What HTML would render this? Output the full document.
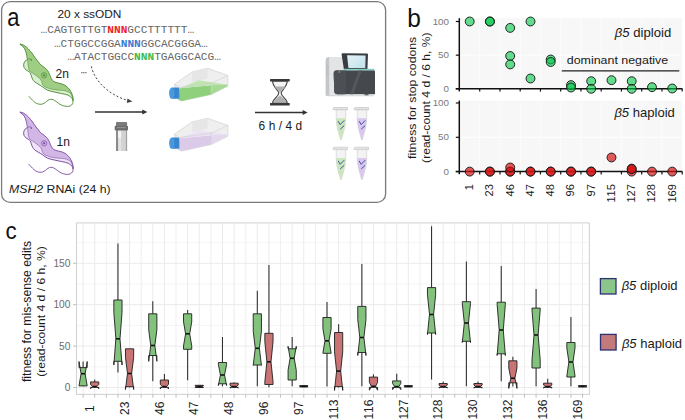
<!DOCTYPE html><html><head><meta charset="utf-8"><style>html,body{margin:0;padding:0;background:#fff;}svg{display:block;}text{font-family:"Liberation Sans", sans-serif;font-kerning:none;}</style></head><body>
<svg width="685" height="420" viewBox="0 0 685 420">
<rect width="685" height="420" fill="#fff"/>
<rect x="1.6" y="1.6" width="384" height="200.8" rx="8.5" ry="8.5" fill="none" stroke="#7a7a7a" stroke-width="1.3"/>
<text transform="translate(7.3,25.7) scale(0.86,1)" font-size="25.5" fill="#111">a</text>
<text x="57.4" y="18.2" font-size="11.6" fill="#1a1a1a" textLength="64" lengthAdjust="spacingAndGlyphs">20 x ssODN</text>
<text x="40.6" y="32.9" font-size="11.1" fill="#666" style="font-family:'Liberation Mono',monospace" textLength="153.5" lengthAdjust="spacingAndGlyphs">…CAGTGTTGT<tspan fill="#ee1c24" font-weight="bold">NNN</tspan>GCCTTTTTT…</text>
<text x="53.9" y="46.8" font-size="11.1" fill="#666" style="font-family:'Liberation Mono',monospace" textLength="153.8" lengthAdjust="spacingAndGlyphs">…CTGGCCGGA<tspan fill="#3a7cd0" font-weight="bold">NNN</tspan>GGCACGGGA…</text>
<text x="67.4" y="60.2" font-size="11.1" fill="#666" style="font-family:'Liberation Mono',monospace" textLength="153.5" lengthAdjust="spacingAndGlyphs">…ATACTGGCC<tspan fill="#3cbb4a" font-weight="bold">NNN</tspan>TGAGGCACG…</text>
<g transform="translate(0,0)"><path d="M19.90,44.10 C20.10,43.92 23.18,44.97 24.60,45.80 C26.02,46.63 27.20,47.90 28.40,49.10 C29.60,50.30 30.77,51.65 31.80,53.00 C32.83,54.35 33.65,55.87 34.60,57.20 C35.55,58.53 36.47,59.72 37.50,61.00 C38.53,62.28 39.62,63.78 40.80,64.90 C41.98,66.02 43.48,66.75 44.60,67.70 C45.72,68.65 46.68,69.47 47.50,70.60 C48.32,71.73 48.88,73.17 49.50,74.50 C50.12,75.83 50.45,77.38 51.20,78.60 C51.95,79.82 52.77,81.03 54.00,81.80 C55.23,82.57 56.95,82.70 58.60,83.20 C60.25,83.70 62.30,84.00 63.90,84.80 C65.50,85.60 66.95,86.65 68.20,88.00 C69.45,89.35 70.62,91.28 71.40,92.90 C72.18,94.52 72.63,96.38 72.90,97.70 C73.17,99.02 73.15,100.70 73.00,100.80 C72.85,100.90 72.80,99.23 72.00,98.30 C71.20,97.37 69.90,95.98 68.20,95.20 C66.50,94.42 64.12,94.13 61.80,93.60 C59.48,93.07 56.68,92.57 54.30,92.00 C51.92,91.43 49.47,91.07 47.50,90.20 C45.53,89.33 44.08,87.83 42.50,86.80 C40.92,85.77 39.30,84.82 38.00,84.00 C36.70,83.18 35.60,82.68 34.70,81.90 C33.80,81.12 33.17,80.32 32.60,79.30 C32.03,78.28 31.70,76.88 31.30,75.80 C30.90,74.72 30.72,73.55 30.20,72.80 C29.68,72.05 28.92,71.82 28.20,71.30 C27.48,70.78 26.58,70.33 25.90,69.70 C25.22,69.07 24.47,68.42 24.10,67.50 C23.73,66.58 23.52,65.28 23.70,64.20 C23.88,63.12 24.58,61.82 25.20,61.00 C25.82,60.18 27.17,60.40 27.40,59.30 C27.63,58.20 26.92,55.85 26.60,54.40 C26.28,52.95 26.03,51.85 25.50,50.60 C24.97,49.35 24.33,47.98 23.40,46.90 C22.47,45.82 19.70,44.28 19.90,44.10 Z" fill="#d9efcf" stroke="#4c8936" stroke-width="0.95"/><path d="M19.90,44.10 C20.10,43.92 23.18,44.97 24.60,45.80 C26.02,46.63 27.20,47.90 28.40,49.10 C29.60,50.30 30.77,51.65 31.80,53.00 C32.83,54.35 33.65,55.87 34.60,57.20 C35.55,58.53 36.47,59.72 37.50,61.00 C38.53,62.28 39.62,63.78 40.80,64.90 C41.98,66.02 43.48,66.75 44.60,67.70 C45.72,68.65 46.68,69.47 47.50,70.60 C48.32,71.73 48.88,73.17 49.50,74.50 C50.12,75.83 50.45,77.38 51.20,78.60 C51.95,79.82 52.77,81.03 54.00,81.80 C55.23,82.57 56.95,82.70 58.60,83.20 C60.25,83.70 62.30,84.00 63.90,84.80 C65.50,85.60 66.95,86.65 68.20,88.00 C69.45,89.35 70.62,91.28 71.40,92.90 C72.18,94.52 72.63,96.38 72.90,97.70 C73.17,99.02 73.08,100.85 73.00,100.80 C72.92,100.75 72.83,98.65 72.40,97.40 C71.97,96.15 71.63,94.40 70.40,93.30 C69.17,92.20 66.97,91.32 65.00,90.80 C63.03,90.28 60.92,90.48 58.60,90.20 C56.28,89.92 53.20,89.58 51.10,89.10 C49.00,88.62 47.35,87.95 46.00,87.30 C44.65,86.65 43.67,86.00 43.00,85.20 C42.33,84.40 42.33,83.37 42.00,82.50 C41.67,81.63 41.57,80.85 41.00,80.00 C40.43,79.15 39.65,78.30 38.60,77.40 C37.55,76.50 36.02,75.53 34.70,74.60 C33.38,73.67 31.67,72.63 30.70,71.80 C29.73,70.97 29.33,70.73 28.90,69.60 C28.47,68.47 28.30,66.35 28.10,65.00 C27.90,63.65 27.82,62.45 27.70,61.50 C27.58,60.55 27.58,60.48 27.40,59.30 C27.22,58.12 26.92,55.85 26.60,54.40 C26.28,52.95 26.03,51.85 25.50,50.60 C24.97,49.35 24.33,47.98 23.40,46.90 C22.47,45.82 19.70,44.28 19.90,44.10 Z" fill="#9ecd83" stroke="#4c8936" stroke-width="0.55"/><circle cx="44.1" cy="75.3" r="2.8" fill="#8cc270" stroke="#4c8936" stroke-width="0.5"/><circle cx="44.1" cy="75.3" r="1.0" fill="#4c8936"/><circle cx="31.3" cy="60.1" r="0.8" fill="#4c8936"/><path d="M31.3,59.6 C30.4,58.4 28.6,58.6 27.4,59.8" fill="none" stroke="#4c8936" stroke-width="0.7"/><path d="M73.00,100.80 C72.93,101.30 73.07,102.95 72.60,103.80 C72.13,104.65 71.10,105.47 70.20,105.90 C69.30,106.33 68.32,106.42 67.20,106.40 C66.08,106.38 64.70,106.15 63.50,105.80 C62.30,105.45 61.17,104.97 60.00,104.30 C58.83,103.63 57.58,102.55 56.50,101.80 C55.42,101.05 54.45,100.22 53.50,99.80 C52.55,99.38 51.72,99.22 50.80,99.30 C49.88,99.38 48.88,99.80 48.00,100.30 C47.12,100.80 46.42,101.68 45.50,102.30 C44.58,102.92 43.55,103.68 42.50,104.00 C41.45,104.32 40.37,104.40 39.20,104.20 C38.03,104.00 36.62,103.47 35.50,102.80 C34.38,102.13 33.38,101.03 32.50,100.20 C31.62,99.37 30.82,98.47 30.20,97.80 C29.58,97.13 29.03,96.47 28.80,96.20" fill="none" stroke="#4c8936" stroke-width="0.9"/></g>
<g transform="translate(0,68)"><path d="M19.90,44.10 C20.10,43.92 23.18,44.97 24.60,45.80 C26.02,46.63 27.20,47.90 28.40,49.10 C29.60,50.30 30.77,51.65 31.80,53.00 C32.83,54.35 33.65,55.87 34.60,57.20 C35.55,58.53 36.47,59.72 37.50,61.00 C38.53,62.28 39.62,63.78 40.80,64.90 C41.98,66.02 43.48,66.75 44.60,67.70 C45.72,68.65 46.68,69.47 47.50,70.60 C48.32,71.73 48.88,73.17 49.50,74.50 C50.12,75.83 50.45,77.38 51.20,78.60 C51.95,79.82 52.77,81.03 54.00,81.80 C55.23,82.57 56.95,82.70 58.60,83.20 C60.25,83.70 62.30,84.00 63.90,84.80 C65.50,85.60 66.95,86.65 68.20,88.00 C69.45,89.35 70.62,91.28 71.40,92.90 C72.18,94.52 72.63,96.38 72.90,97.70 C73.17,99.02 73.15,100.70 73.00,100.80 C72.85,100.90 72.80,99.23 72.00,98.30 C71.20,97.37 69.90,95.98 68.20,95.20 C66.50,94.42 64.12,94.13 61.80,93.60 C59.48,93.07 56.68,92.57 54.30,92.00 C51.92,91.43 49.47,91.07 47.50,90.20 C45.53,89.33 44.08,87.83 42.50,86.80 C40.92,85.77 39.30,84.82 38.00,84.00 C36.70,83.18 35.60,82.68 34.70,81.90 C33.80,81.12 33.17,80.32 32.60,79.30 C32.03,78.28 31.70,76.88 31.30,75.80 C30.90,74.72 30.72,73.55 30.20,72.80 C29.68,72.05 28.92,71.82 28.20,71.30 C27.48,70.78 26.58,70.33 25.90,69.70 C25.22,69.07 24.47,68.42 24.10,67.50 C23.73,66.58 23.52,65.28 23.70,64.20 C23.88,63.12 24.58,61.82 25.20,61.00 C25.82,60.18 27.17,60.40 27.40,59.30 C27.63,58.20 26.92,55.85 26.60,54.40 C26.28,52.95 26.03,51.85 25.50,50.60 C24.97,49.35 24.33,47.98 23.40,46.90 C22.47,45.82 19.70,44.28 19.90,44.10 Z" fill="#efe4f7" stroke="#76489e" stroke-width="0.95"/><path d="M19.90,44.10 C20.10,43.92 23.18,44.97 24.60,45.80 C26.02,46.63 27.20,47.90 28.40,49.10 C29.60,50.30 30.77,51.65 31.80,53.00 C32.83,54.35 33.65,55.87 34.60,57.20 C35.55,58.53 36.47,59.72 37.50,61.00 C38.53,62.28 39.62,63.78 40.80,64.90 C41.98,66.02 43.48,66.75 44.60,67.70 C45.72,68.65 46.68,69.47 47.50,70.60 C48.32,71.73 48.88,73.17 49.50,74.50 C50.12,75.83 50.45,77.38 51.20,78.60 C51.95,79.82 52.77,81.03 54.00,81.80 C55.23,82.57 56.95,82.70 58.60,83.20 C60.25,83.70 62.30,84.00 63.90,84.80 C65.50,85.60 66.95,86.65 68.20,88.00 C69.45,89.35 70.62,91.28 71.40,92.90 C72.18,94.52 72.63,96.38 72.90,97.70 C73.17,99.02 73.08,100.85 73.00,100.80 C72.92,100.75 72.83,98.65 72.40,97.40 C71.97,96.15 71.63,94.40 70.40,93.30 C69.17,92.20 66.97,91.32 65.00,90.80 C63.03,90.28 60.92,90.48 58.60,90.20 C56.28,89.92 53.20,89.58 51.10,89.10 C49.00,88.62 47.35,87.95 46.00,87.30 C44.65,86.65 43.67,86.00 43.00,85.20 C42.33,84.40 42.33,83.37 42.00,82.50 C41.67,81.63 41.57,80.85 41.00,80.00 C40.43,79.15 39.65,78.30 38.60,77.40 C37.55,76.50 36.02,75.53 34.70,74.60 C33.38,73.67 31.67,72.63 30.70,71.80 C29.73,70.97 29.33,70.73 28.90,69.60 C28.47,68.47 28.30,66.35 28.10,65.00 C27.90,63.65 27.82,62.45 27.70,61.50 C27.58,60.55 27.58,60.48 27.40,59.30 C27.22,58.12 26.92,55.85 26.60,54.40 C26.28,52.95 26.03,51.85 25.50,50.60 C24.97,49.35 24.33,47.98 23.40,46.90 C22.47,45.82 19.70,44.28 19.90,44.10 Z" fill="#d2b6e5" stroke="#76489e" stroke-width="0.55"/><circle cx="44.1" cy="75.3" r="2.8" fill="#c4a2da" stroke="#76489e" stroke-width="0.5"/><circle cx="44.1" cy="75.3" r="1.0" fill="#76489e"/><circle cx="31.3" cy="60.1" r="0.8" fill="#76489e"/><path d="M31.3,59.6 C30.4,58.4 28.6,58.6 27.4,59.8" fill="none" stroke="#76489e" stroke-width="0.7"/><path d="M73.00,100.80 C72.93,101.30 73.07,102.95 72.60,103.80 C72.13,104.65 71.10,105.47 70.20,105.90 C69.30,106.33 68.32,106.42 67.20,106.40 C66.08,106.38 64.70,106.15 63.50,105.80 C62.30,105.45 61.17,104.97 60.00,104.30 C58.83,103.63 57.58,102.55 56.50,101.80 C55.42,101.05 54.45,100.22 53.50,99.80 C52.55,99.38 51.72,99.22 50.80,99.30 C49.88,99.38 48.88,99.80 48.00,100.30 C47.12,100.80 46.42,101.68 45.50,102.30 C44.58,102.92 43.55,103.68 42.50,104.00 C41.45,104.32 40.37,104.40 39.20,104.20 C38.03,104.00 36.62,103.47 35.50,102.80 C34.38,102.13 33.38,101.03 32.50,100.20 C31.62,99.37 30.82,98.47 30.20,97.80 C29.58,97.13 29.03,96.47 28.80,96.20" fill="none" stroke="#76489e" stroke-width="0.9"/></g>
<text x="55.6" y="77.9" font-size="12" fill="#1a1a1a">2n</text>
<text x="56.6" y="146.2" font-size="12" fill="#1a1a1a">1n</text>
<text x="9.1" y="192.8" font-size="11.4" fill="#1a1a1a" textLength="101.6" lengthAdjust="spacingAndGlyphs"><tspan font-style="italic">MSH2</tspan> RNAi (24 h)</text>
<circle cx="81.9" cy="72.7" r="0.6" fill="#333"/><circle cx="83.9" cy="72.7" r="0.6" fill="#333"/><circle cx="85.9" cy="72.7" r="0.6" fill="#333"/>
<path d="M91.4,66.4 C94,80 108,95 129,100.8" fill="none" stroke="#444" stroke-width="1" stroke-dasharray="2,2"/>
<path d="M132.4,101.6 L127.5,98.5 L126.8,103 Z" fill="#444"/>
<line x1="95" y1="112" x2="144.3" y2="112" stroke="#333" stroke-width="1.4"/><path d="M147.3,112 L142.3,109.5 L142.3,114.5 Z" fill="#333"/>
<line x1="255" y1="112.5" x2="304.6" y2="112.5" stroke="#333" stroke-width="1.4"/><path d="M307.6,112.5 L302.6,110.0 L302.6,115.0 Z" fill="#333"/>
<rect x="116" y="130.2" width="11.1" height="20.8" fill="#e4e4e4"/>
<rect x="116" y="130.2" width="2.1" height="20.8" fill="#8c8c8c"/>
<rect x="121.1" y="130.2" width="4.8" height="20.8" fill="#d2d2d2"/>
<rect x="125.9" y="130.2" width="1.2" height="20.8" fill="#a0a0a0"/>
<rect x="118.1" y="130.2" width="3" height="8" fill="#f4f4f4"/>
<rect x="116" y="121.9" width="11.1" height="4.6" rx="1" fill="#7b7b7b"/>
<rect x="114.7" y="125.7" width="13.3" height="4.7" rx="1" fill="#6c6c6c"/>
<rect x="117" y="127.2" width="9" height="0.9" fill="#999"/>
<g transform="translate(0,0)"><path d="M174.3,84.4 L192.1,71.9 L207.6,68.3 L227.9,75.5 L227.9,86.2 L211.2,94.5 L181.4,101.1 L177.9,99.3 Z" fill="#efefef" stroke="#c9c9c9" stroke-width="0.6"/><path d="M192.1,71.9 L207.6,68.3 L207.6,78.5 L192.1,82 Z" fill="#e6e6e6"/><path d="M179.8,88.2 L211.2,85.2 L211.2,94.5 L181.4,101.1 L178.4,99.6 Z" fill="#8fd07c"/><path d="M179.8,88.2 L198.8,80.2 L226.8,84.6 L211.2,85.2 Z" fill="#bfe5b1"/><path d="M211.2,85.2 L226.8,84.6 L227.4,86.2 L211.2,94.5 Z" fill="#a6da95"/><path d="M179.6,87.4 L211.2,83.2 L227.9,75.5 M211.2,83.2 L211.2,94.5 M174.3,84.4 L179.6,87.4" fill="none" stroke="#cfcfcf" stroke-width="0.6"/><rect x="171.6" y="87.6" width="7.8" height="11.2" rx="1.2" fill="#3a89d2"/><ellipse cx="171.8" cy="93.2" rx="2.7" ry="5.6" fill="#4a98dd"/><rect x="175" y="88.5" width="2.2" height="9.4" fill="#3580c8" opacity="0.6"/></g>
<g transform="translate(0,50)"><path d="M174.3,84.4 L192.1,71.9 L207.6,68.3 L227.9,75.5 L227.9,86.2 L211.2,94.5 L181.4,101.1 L177.9,99.3 Z" fill="#efefef" stroke="#c9c9c9" stroke-width="0.6"/><path d="M192.1,71.9 L207.6,68.3 L207.6,78.5 L192.1,82 Z" fill="#e6e6e6"/><path d="M179.8,88.2 L211.2,85.2 L211.2,94.5 L181.4,101.1 L178.4,99.6 Z" fill="#dccbe8"/><path d="M179.8,88.2 L198.8,80.2 L226.8,84.6 L211.2,85.2 Z" fill="#ebe2f3"/><path d="M211.2,85.2 L226.8,84.6 L227.4,86.2 L211.2,94.5 Z" fill="#e4d8ef"/><path d="M179.6,87.4 L211.2,83.2 L227.9,75.5 M211.2,83.2 L211.2,94.5 M174.3,84.4 L179.6,87.4" fill="none" stroke="#cfcfcf" stroke-width="0.6"/><rect x="171.6" y="87.6" width="7.8" height="11.2" rx="1.2" fill="#3a89d2"/><ellipse cx="171.8" cy="93.2" rx="2.7" ry="5.6" fill="#4a98dd"/><rect x="175" y="88.5" width="2.2" height="9.4" fill="#3580c8" opacity="0.6"/></g>
<rect x="270" y="79.1" width="19.7" height="2.3" rx="0.3" fill="#3a3a3a"/>
<rect x="270" y="103" width="19.7" height="2.4" rx="0.3" fill="#3a3a3a"/>
<path d="M272.6,81.3 L287.2,81.3 C287.2,87 281.2,89.8 281.2,93.2 C281.2,96.6 287.2,99 287.2,103 L272.6,103 C272.6,99 278.7,96.6 278.7,93.2 C278.7,89.8 272.6,87 272.6,81.3 Z" fill="#f4f4f4" stroke="#3f3f3f" stroke-width="1.1"/>
<path d="M274.6,86.5 L285.3,86.5 C284,89 281,90.5 280,93 C279,90.5 276,89 274.6,86.5 Z" fill="#b0b0b0"/>
<path d="M273.5,102.6 C274,99.5 278,97.5 280,95.5 C282,97.5 286,99.5 286.4,102.6 Z" fill="#b0b0b0"/>
<text x="258.6" y="129.9" font-size="11.9" fill="#1a1a1a" textLength="43.6" lengthAdjust="spacing">6 h / 4 d</text>
<path d="M325.7,95.7 L325.7,60.6 Q325.7,57.1 329.2,57.1 L343.8,57.1 L343.8,95.7 Z" fill="#e2e4e6"/>
<path d="M325.7,95.7 L325.7,60.6 Q325.7,57.1 329.2,57.1 L329.2,95.7 Z" fill="#c4c7ca"/>
<path d="M326.5,66 L328.6,66 M326.5,68 L328.6,68 M326.5,70 L328.6,70 M326.5,72 L328.6,72 M326.5,74 L328.6,74" stroke="#aeb2b5" stroke-width="0.6"/>
<path d="M342.6,53.2 L366.8,53.4 Q368,53.4 368,54.6 L367.4,70 L344,70 L341.6,54.6 Q341.5,53.2 342.6,53.2 Z" fill="#393c40"/>
<defs><linearGradient id="scr" x1="0" x2="1" y1="0" y2="1"><stop offset="0" stop-color="#e4f3f6"/><stop offset="1" stop-color="#bfe1ea"/></linearGradient></defs>
<path d="M347.1,55.3 L365.6,55.5 L365.3,67.9 L348.4,67.9 Z" fill="url(#scr)"/>
<rect x="343.6" y="68.8" width="30.7" height="1.9" fill="#86cfc6"/>
<path d="M336.2,70.6 L374,70.6 Q375,70.6 375,71.6 L375,93.4 Q375,94.3 374.1,94.3 L337.2,94.3 Q334.6,94.3 334.3,91.5 L333.7,74 Q333.6,70.6 336.2,70.6 Z" fill="#45484c"/>
<path d="M336.2,70.6 L346,70.6 L346,94.3 L337.2,94.3 Q334.6,94.3 334.3,91.5 L333.7,74 Q333.6,70.6 336.2,70.6 Z" fill="#4c4f53"/>
<path d="M350,94.3 L358.5,70.6 L362,70.6 L353.5,94.3 Z" fill="#54575b"/>
<circle cx="339.3" cy="72" r="0.7" fill="#7cc8c0"/>
<rect x="364.5" y="94.3" width="4" height="1.2" fill="#2f3235"/>
<rect x="327" y="95.4" width="47" height="0.8" fill="#c8c8c8"/>
<g transform="translate(333.3,107.3)"><path d="M0.6,0.2 L14.2,0.2 L14.2,2.6 L0.2,2.6 L-0.6,1.6 Z" fill="#e4e4e4" stroke="#b5b5b5" stroke-width="0.5"/><path d="M2.9,2.6 L12.4,2.6 L12.4,12 C12.4,19 9.6,27 8.1,32.4 C7.9,33.1 7.4,33.1 7.2,32.4 C5.8,27 2.9,19 2.9,12 Z" fill="#f3f3f3" stroke="#c2c2c2" stroke-width="0.5"/><path d="M3.1,11 L12.2,11 L12.2,12 C12.2,19 9.4,26.8 8,32.1 C7.8,32.8 7.5,32.8 7.3,32.1 C5.9,26.8 3.1,19 3.1,12 Z" fill="#c9e7bb"/><path d="M5,14.2 L6.9,17.3 L10.7,13.4 M7.2,21.6 L10.6,18.6" fill="none" stroke="#3f55a5" stroke-width="1.0" stroke-linecap="round" stroke-linejoin="round"/></g>
<g transform="translate(354.3,107.3)"><path d="M0.6,0.2 L14.2,0.2 L14.2,2.6 L0.2,2.6 L-0.6,1.6 Z" fill="#e4e4e4" stroke="#b5b5b5" stroke-width="0.5"/><path d="M2.9,2.6 L12.4,2.6 L12.4,12 C12.4,19 9.6,27 8.1,32.4 C7.9,33.1 7.4,33.1 7.2,32.4 C5.8,27 2.9,19 2.9,12 Z" fill="#f3f3f3" stroke="#c2c2c2" stroke-width="0.5"/><path d="M3.1,11 L12.2,11 L12.2,12 C12.2,19 9.4,26.8 8,32.1 C7.8,32.8 7.5,32.8 7.3,32.1 C5.9,26.8 3.1,19 3.1,12 Z" fill="#d9c7f0"/><path d="M5,14.2 L6.9,17.3 L10.7,13.4 M7.2,21.6 L10.6,18.6" fill="none" stroke="#3f55a5" stroke-width="1.0" stroke-linecap="round" stroke-linejoin="round"/></g>
<g transform="translate(333.3,147.0)"><path d="M0.6,0.2 L14.2,0.2 L14.2,2.6 L0.2,2.6 L-0.6,1.6 Z" fill="#e4e4e4" stroke="#b5b5b5" stroke-width="0.5"/><path d="M2.9,2.6 L12.4,2.6 L12.4,12 C12.4,19 9.6,27 8.1,32.4 C7.9,33.1 7.4,33.1 7.2,32.4 C5.8,27 2.9,19 2.9,12 Z" fill="#f3f3f3" stroke="#c2c2c2" stroke-width="0.5"/><path d="M3.1,11 L12.2,11 L12.2,12 C12.2,19 9.4,26.8 8,32.1 C7.8,32.8 7.5,32.8 7.3,32.1 C5.9,26.8 3.1,19 3.1,12 Z" fill="#c9e7bb"/><path d="M5,14.2 L6.9,17.3 L10.7,13.4 M7.2,21.6 L10.6,18.6" fill="none" stroke="#3f55a5" stroke-width="1.0" stroke-linecap="round" stroke-linejoin="round"/></g>
<g transform="translate(354.3,147.0)"><path d="M0.6,0.2 L14.2,0.2 L14.2,2.6 L0.2,2.6 L-0.6,1.6 Z" fill="#e4e4e4" stroke="#b5b5b5" stroke-width="0.5"/><path d="M2.9,2.6 L12.4,2.6 L12.4,12 C12.4,19 9.6,27 8.1,32.4 C7.9,33.1 7.4,33.1 7.2,32.4 C5.8,27 2.9,19 2.9,12 Z" fill="#f3f3f3" stroke="#c2c2c2" stroke-width="0.5"/><path d="M3.1,11 L12.2,11 L12.2,12 C12.2,19 9.4,26.8 8,32.1 C7.8,32.8 7.5,32.8 7.3,32.1 C5.9,26.8 3.1,19 3.1,12 Z" fill="#d9c7f0"/><path d="M5,14.2 L6.9,17.3 L10.7,13.4 M7.2,21.6 L10.6,18.6" fill="none" stroke="#3f55a5" stroke-width="1.0" stroke-linecap="round" stroke-linejoin="round"/></g>
<text transform="translate(407.2,26.5) scale(0.93,1)" font-size="26.3" fill="#111">b</text>
<text transform="translate(415.7,158.9) rotate(-90)" font-size="11.8" fill="#1a1a1a" textLength="122" lengthAdjust="spacingAndGlyphs">fitness for stop codons</text>
<text transform="translate(430.3,162.9) rotate(-90)" font-size="11.8" fill="#1a1a1a" textLength="130.4" lengthAdjust="spacingAndGlyphs">(read-count 4 d / 6 h, %)</text>
<rect x="460.5" y="18.2" width="221.5" height="70.6" fill="#f7f7f7"/><line x1="460.5" y1="55.1" x2="682" y2="55.1" stroke="#fdfdfd" stroke-width="1.2"/><line x1="479.7" y1="18.2" x2="479.7" y2="88.8" stroke="#fcfcfc" stroke-width="1"/><line x1="499.95" y1="18.2" x2="499.95" y2="88.8" stroke="#fcfcfc" stroke-width="1"/><line x1="520.2" y1="18.2" x2="520.2" y2="88.8" stroke="#fcfcfc" stroke-width="1"/><line x1="540.45" y1="18.2" x2="540.45" y2="88.8" stroke="#fcfcfc" stroke-width="1"/><line x1="560.7" y1="18.2" x2="560.7" y2="88.8" stroke="#fcfcfc" stroke-width="1"/><line x1="580.95" y1="18.2" x2="580.95" y2="88.8" stroke="#fcfcfc" stroke-width="1"/><line x1="601.2" y1="18.2" x2="601.2" y2="88.8" stroke="#fcfcfc" stroke-width="1"/><line x1="621.45" y1="18.2" x2="621.45" y2="88.8" stroke="#fcfcfc" stroke-width="1"/><line x1="641.7" y1="18.2" x2="641.7" y2="88.8" stroke="#fcfcfc" stroke-width="1"/><line x1="661.95" y1="18.2" x2="661.95" y2="88.8" stroke="#fcfcfc" stroke-width="1"/><line x1="459.3" y1="18.2" x2="459.3" y2="91.39999999999999" stroke="#111" stroke-width="1.5"/><line x1="455.8" y1="88.8" x2="682.4" y2="88.8" stroke="#111" stroke-width="1.5"/><line x1="455.8" y1="88.8" x2="459.2" y2="88.8" stroke="#111" stroke-width="1.2"/><text x="449" y="91.8" font-size="9.8" fill="#7a7a7a" text-anchor="end">0</text><line x1="455.8" y1="55.15" x2="459.2" y2="55.15" stroke="#111" stroke-width="1.2"/><text x="449" y="58.15" font-size="9.8" fill="#7a7a7a" text-anchor="end">50</text><line x1="455.8" y1="21.5" x2="459.2" y2="21.5" stroke="#111" stroke-width="1.2"/><text x="449" y="24.5" font-size="9.8" fill="#7a7a7a" text-anchor="end">100</text><line x1="479.7" y1="88.8" x2="479.7" y2="91.6" stroke="#111" stroke-width="1.2"/><line x1="499.95" y1="88.8" x2="499.95" y2="91.6" stroke="#111" stroke-width="1.2"/><line x1="520.2" y1="88.8" x2="520.2" y2="91.6" stroke="#111" stroke-width="1.2"/><line x1="540.45" y1="88.8" x2="540.45" y2="91.6" stroke="#111" stroke-width="1.2"/><line x1="560.7" y1="88.8" x2="560.7" y2="91.6" stroke="#111" stroke-width="1.2"/><line x1="580.95" y1="88.8" x2="580.95" y2="91.6" stroke="#111" stroke-width="1.2"/><line x1="601.2" y1="88.8" x2="601.2" y2="91.6" stroke="#111" stroke-width="1.2"/><line x1="621.45" y1="88.8" x2="621.45" y2="91.6" stroke="#111" stroke-width="1.2"/><line x1="641.7" y1="88.8" x2="641.7" y2="91.6" stroke="#111" stroke-width="1.2"/><line x1="661.95" y1="88.8" x2="661.95" y2="91.6" stroke="#111" stroke-width="1.2"/><line x1="682.2" y1="88.8" x2="682.2" y2="91.6" stroke="#111" stroke-width="1.2"/>
<rect x="460.5" y="100.6" width="221.5" height="71.0" fill="#f7f7f7"/><line x1="460.5" y1="137.3" x2="682" y2="137.3" stroke="#fdfdfd" stroke-width="1.2"/><line x1="479.7" y1="100.6" x2="479.7" y2="171.6" stroke="#fcfcfc" stroke-width="1"/><line x1="499.95" y1="100.6" x2="499.95" y2="171.6" stroke="#fcfcfc" stroke-width="1"/><line x1="520.2" y1="100.6" x2="520.2" y2="171.6" stroke="#fcfcfc" stroke-width="1"/><line x1="540.45" y1="100.6" x2="540.45" y2="171.6" stroke="#fcfcfc" stroke-width="1"/><line x1="560.7" y1="100.6" x2="560.7" y2="171.6" stroke="#fcfcfc" stroke-width="1"/><line x1="580.95" y1="100.6" x2="580.95" y2="171.6" stroke="#fcfcfc" stroke-width="1"/><line x1="601.2" y1="100.6" x2="601.2" y2="171.6" stroke="#fcfcfc" stroke-width="1"/><line x1="621.45" y1="100.6" x2="621.45" y2="171.6" stroke="#fcfcfc" stroke-width="1"/><line x1="641.7" y1="100.6" x2="641.7" y2="171.6" stroke="#fcfcfc" stroke-width="1"/><line x1="661.95" y1="100.6" x2="661.95" y2="171.6" stroke="#fcfcfc" stroke-width="1"/><line x1="459.3" y1="100.6" x2="459.3" y2="174.2" stroke="#111" stroke-width="1.5"/><line x1="455.8" y1="171.6" x2="682.4" y2="171.6" stroke="#111" stroke-width="1.5"/><line x1="455.8" y1="171.6" x2="459.2" y2="171.6" stroke="#111" stroke-width="1.2"/><text x="449" y="174.6" font-size="9.8" fill="#7a7a7a" text-anchor="end">0</text><line x1="455.8" y1="137.3" x2="459.2" y2="137.3" stroke="#111" stroke-width="1.2"/><text x="449" y="140.3" font-size="9.8" fill="#7a7a7a" text-anchor="end">50</text><line x1="455.8" y1="103.0" x2="459.2" y2="103.0" stroke="#111" stroke-width="1.2"/><text x="449" y="106.0" font-size="9.8" fill="#7a7a7a" text-anchor="end">100</text><line x1="479.7" y1="171.6" x2="479.7" y2="174.4" stroke="#111" stroke-width="1.2"/><line x1="499.95" y1="171.6" x2="499.95" y2="174.4" stroke="#111" stroke-width="1.2"/><line x1="520.2" y1="171.6" x2="520.2" y2="174.4" stroke="#111" stroke-width="1.2"/><line x1="540.45" y1="171.6" x2="540.45" y2="174.4" stroke="#111" stroke-width="1.2"/><line x1="560.7" y1="171.6" x2="560.7" y2="174.4" stroke="#111" stroke-width="1.2"/><line x1="580.95" y1="171.6" x2="580.95" y2="174.4" stroke="#111" stroke-width="1.2"/><line x1="601.2" y1="171.6" x2="601.2" y2="174.4" stroke="#111" stroke-width="1.2"/><line x1="621.45" y1="171.6" x2="621.45" y2="174.4" stroke="#111" stroke-width="1.2"/><line x1="641.7" y1="171.6" x2="641.7" y2="174.4" stroke="#111" stroke-width="1.2"/><line x1="661.95" y1="171.6" x2="661.95" y2="174.4" stroke="#111" stroke-width="1.2"/><line x1="682.2" y1="171.6" x2="682.2" y2="174.4" stroke="#111" stroke-width="1.2"/>
<circle cx="469.7" cy="21.5" r="4.45" fill="rgba(0,200,70,0.6)" stroke="#1a1a1a" stroke-width="0.95"/><circle cx="489.9" cy="21.5" r="4.45" fill="rgba(0,200,70,0.6)" stroke="#1a1a1a" stroke-width="0.95"/><circle cx="489.9" cy="21.5" r="4.45" fill="rgba(0,200,70,0.6)" stroke="#1a1a1a" stroke-width="0.95"/><circle cx="510.2" cy="27.9" r="4.45" fill="rgba(0,200,70,0.6)" stroke="#1a1a1a" stroke-width="0.95"/><circle cx="510.2" cy="56.0" r="4.45" fill="rgba(0,200,70,0.6)" stroke="#1a1a1a" stroke-width="0.95"/><circle cx="510.2" cy="64.4" r="4.45" fill="rgba(0,200,70,0.6)" stroke="#1a1a1a" stroke-width="0.95"/><circle cx="530.5" cy="21.5" r="4.45" fill="rgba(0,200,70,0.6)" stroke="#1a1a1a" stroke-width="0.95"/><circle cx="530.5" cy="78.5" r="4.45" fill="rgba(0,200,70,0.6)" stroke="#1a1a1a" stroke-width="0.95"/><circle cx="550.7" cy="59.5" r="4.45" fill="rgba(0,200,70,0.6)" stroke="#1a1a1a" stroke-width="0.95"/><circle cx="550.7" cy="62.0" r="4.45" fill="rgba(0,200,70,0.6)" stroke="#1a1a1a" stroke-width="0.95"/><circle cx="571.0" cy="85.1" r="4.45" fill="rgba(0,200,70,0.6)" stroke="#1a1a1a" stroke-width="0.95"/><circle cx="571.0" cy="87.5" r="4.45" fill="rgba(0,200,70,0.6)" stroke="#1a1a1a" stroke-width="0.95"/><circle cx="591.2" cy="81.2" r="4.45" fill="rgba(0,200,70,0.6)" stroke="#1a1a1a" stroke-width="0.95"/><circle cx="591.2" cy="88.8" r="4.45" fill="rgba(0,200,70,0.6)" stroke="#1a1a1a" stroke-width="0.95"/><circle cx="611.5" cy="80.2" r="4.45" fill="rgba(0,200,70,0.6)" stroke="#1a1a1a" stroke-width="0.95"/><circle cx="631.7" cy="81.2" r="4.45" fill="rgba(0,200,70,0.6)" stroke="#1a1a1a" stroke-width="0.95"/><circle cx="631.7" cy="88.8" r="4.45" fill="rgba(0,200,70,0.6)" stroke="#1a1a1a" stroke-width="0.95"/><circle cx="652.0" cy="87.2" r="4.45" fill="rgba(0,200,70,0.6)" stroke="#1a1a1a" stroke-width="0.95"/><circle cx="672.2" cy="88.5" r="4.45" fill="rgba(0,200,70,0.6)" stroke="#1a1a1a" stroke-width="0.95"/>
<circle cx="469.7" cy="171.6" r="4.45" fill="rgba(215,20,20,0.7)" stroke="#1a1a1a" stroke-width="0.95"/><circle cx="489.9" cy="171.6" r="4.45" fill="rgba(215,20,20,0.7)" stroke="#1a1a1a" stroke-width="0.95"/><circle cx="489.9" cy="171.6" r="4.45" fill="rgba(215,20,20,0.7)" stroke="#1a1a1a" stroke-width="0.95"/><circle cx="510.2" cy="171.6" r="4.45" fill="rgba(215,20,20,0.7)" stroke="#1a1a1a" stroke-width="0.95"/><circle cx="510.2" cy="171.6" r="4.45" fill="rgba(215,20,20,0.7)" stroke="#1a1a1a" stroke-width="0.95"/><circle cx="510.2" cy="167.5" r="4.45" fill="rgba(215,20,20,0.7)" stroke="#1a1a1a" stroke-width="0.95"/><circle cx="530.5" cy="171.6" r="4.45" fill="rgba(215,20,20,0.7)" stroke="#1a1a1a" stroke-width="0.95"/><circle cx="530.5" cy="171.6" r="4.45" fill="rgba(215,20,20,0.7)" stroke="#1a1a1a" stroke-width="0.95"/><circle cx="550.7" cy="171.6" r="4.45" fill="rgba(215,20,20,0.7)" stroke="#1a1a1a" stroke-width="0.95"/><circle cx="550.7" cy="171.6" r="4.45" fill="rgba(215,20,20,0.7)" stroke="#1a1a1a" stroke-width="0.95"/><circle cx="571.0" cy="171.6" r="4.45" fill="rgba(215,20,20,0.7)" stroke="#1a1a1a" stroke-width="0.95"/><circle cx="571.0" cy="171.6" r="4.45" fill="rgba(215,20,20,0.7)" stroke="#1a1a1a" stroke-width="0.95"/><circle cx="591.2" cy="171.6" r="4.45" fill="rgba(215,20,20,0.7)" stroke="#1a1a1a" stroke-width="0.95"/><circle cx="591.2" cy="171.6" r="4.45" fill="rgba(215,20,20,0.7)" stroke="#1a1a1a" stroke-width="0.95"/><circle cx="611.5" cy="157.5" r="4.45" fill="rgba(215,20,20,0.7)" stroke="#1a1a1a" stroke-width="0.95"/><circle cx="631.7" cy="171.6" r="4.45" fill="rgba(215,20,20,0.7)" stroke="#1a1a1a" stroke-width="0.95"/><circle cx="631.7" cy="168.6" r="4.45" fill="rgba(215,20,20,0.7)" stroke="#1a1a1a" stroke-width="0.95"/><circle cx="631.7" cy="169.2" r="4.45" fill="rgba(215,20,20,0.7)" stroke="#1a1a1a" stroke-width="0.95"/><circle cx="652.0" cy="171.6" r="4.45" fill="rgba(215,20,20,0.7)" stroke="#1a1a1a" stroke-width="0.95"/><circle cx="672.2" cy="171.6" r="4.45" fill="rgba(215,20,20,0.7)" stroke="#1a1a1a" stroke-width="0.95"/>
<text x="614.8" y="36.6" font-size="12.8" fill="#1a1a1a" textLength="56.4" lengthAdjust="spacingAndGlyphs"><tspan font-style="italic">β5</tspan> diploid</text>
<text x="614.4" y="117.3" font-size="12.8" fill="#1a1a1a" textLength="60.4" lengthAdjust="spacingAndGlyphs"><tspan font-style="italic">β5</tspan> haploid</text>
<text x="566.8" y="64.4" font-size="11.5" fill="#1a1a1a" textLength="101.4" lengthAdjust="spacingAndGlyphs">dominant negative</text>
<line x1="561.8" y1="70.9" x2="679.3" y2="70.9" stroke="#222" stroke-width="1.1"/>
<text transform="translate(473.1,184.2) rotate(-90) scale(1.07,1)" font-size="10.3" fill="#1a1a1a" text-anchor="end">1</text>
<text transform="translate(493.3,184.2) rotate(-90) scale(1.07,1)" font-size="10.3" fill="#1a1a1a" text-anchor="end">23</text>
<text transform="translate(513.6,184.2) rotate(-90) scale(1.07,1)" font-size="10.3" fill="#1a1a1a" text-anchor="end">46</text>
<text transform="translate(533.9,184.2) rotate(-90) scale(1.07,1)" font-size="10.3" fill="#1a1a1a" text-anchor="end">47</text>
<text transform="translate(554.1,184.2) rotate(-90) scale(1.07,1)" font-size="10.3" fill="#1a1a1a" text-anchor="end">48</text>
<text transform="translate(574.4,184.2) rotate(-90) scale(1.07,1)" font-size="10.3" fill="#1a1a1a" text-anchor="end">96</text>
<text transform="translate(594.6,184.2) rotate(-90) scale(1.07,1)" font-size="10.3" fill="#1a1a1a" text-anchor="end">97</text>
<text transform="translate(614.9,184.2) rotate(-90) scale(1.07,1)" font-size="10.3" fill="#1a1a1a" text-anchor="end">115</text>
<text transform="translate(635.1,184.2) rotate(-90) scale(1.07,1)" font-size="10.3" fill="#1a1a1a" text-anchor="end">127</text>
<text transform="translate(655.4,184.2) rotate(-90) scale(1.07,1)" font-size="10.3" fill="#1a1a1a" text-anchor="end">128</text>
<text transform="translate(675.6,184.2) rotate(-90) scale(1.07,1)" font-size="10.3" fill="#1a1a1a" text-anchor="end">169</text>
<text transform="translate(5.6,239.4) scale(0.92,1)" font-size="24.3" fill="#111">c</text>
<line x1="76.5" y1="387.50" x2="589.4" y2="387.50" stroke="#ebebeb" stroke-width="1.0"/>
<line x1="76.5" y1="366.80" x2="589.4" y2="366.80" stroke="#f1f1f1" stroke-width="0.8"/>
<line x1="76.5" y1="346.10" x2="589.4" y2="346.10" stroke="#ebebeb" stroke-width="1.0"/>
<line x1="76.5" y1="325.40" x2="589.4" y2="325.40" stroke="#f1f1f1" stroke-width="0.8"/>
<line x1="76.5" y1="304.70" x2="589.4" y2="304.70" stroke="#ebebeb" stroke-width="1.0"/>
<line x1="76.5" y1="284.00" x2="589.4" y2="284.00" stroke="#f1f1f1" stroke-width="0.8"/>
<line x1="76.5" y1="263.30" x2="589.4" y2="263.30" stroke="#ebebeb" stroke-width="1.0"/>
<line x1="76.5" y1="242.60" x2="589.4" y2="242.60" stroke="#f1f1f1" stroke-width="0.8"/>
<line x1="83.10" y1="222.9" x2="83.10" y2="394.4" stroke="#ebebeb" stroke-width="1.0"/>
<line x1="94.71" y1="222.9" x2="94.71" y2="394.4" stroke="#ebebeb" stroke-width="1.0"/>
<line x1="106.33" y1="222.9" x2="106.33" y2="394.4" stroke="#ebebeb" stroke-width="0.8"/>
<line x1="117.94" y1="222.9" x2="117.94" y2="394.4" stroke="#ebebeb" stroke-width="1.0"/>
<line x1="129.56" y1="222.9" x2="129.56" y2="394.4" stroke="#ebebeb" stroke-width="1.0"/>
<line x1="141.18" y1="222.9" x2="141.18" y2="394.4" stroke="#ebebeb" stroke-width="0.8"/>
<line x1="152.79" y1="222.9" x2="152.79" y2="394.4" stroke="#ebebeb" stroke-width="1.0"/>
<line x1="164.41" y1="222.9" x2="164.41" y2="394.4" stroke="#ebebeb" stroke-width="1.0"/>
<line x1="176.02" y1="222.9" x2="176.02" y2="394.4" stroke="#ebebeb" stroke-width="0.8"/>
<line x1="187.63" y1="222.9" x2="187.63" y2="394.4" stroke="#ebebeb" stroke-width="1.0"/>
<line x1="199.25" y1="222.9" x2="199.25" y2="394.4" stroke="#ebebeb" stroke-width="1.0"/>
<line x1="210.87" y1="222.9" x2="210.87" y2="394.4" stroke="#ebebeb" stroke-width="0.8"/>
<line x1="222.48" y1="222.9" x2="222.48" y2="394.4" stroke="#ebebeb" stroke-width="1.0"/>
<line x1="234.09" y1="222.9" x2="234.09" y2="394.4" stroke="#ebebeb" stroke-width="1.0"/>
<line x1="245.71" y1="222.9" x2="245.71" y2="394.4" stroke="#ebebeb" stroke-width="0.8"/>
<line x1="257.32" y1="222.9" x2="257.32" y2="394.4" stroke="#ebebeb" stroke-width="1.0"/>
<line x1="268.94" y1="222.9" x2="268.94" y2="394.4" stroke="#ebebeb" stroke-width="1.0"/>
<line x1="280.56" y1="222.9" x2="280.56" y2="394.4" stroke="#ebebeb" stroke-width="0.8"/>
<line x1="292.17" y1="222.9" x2="292.17" y2="394.4" stroke="#ebebeb" stroke-width="1.0"/>
<line x1="303.78" y1="222.9" x2="303.78" y2="394.4" stroke="#ebebeb" stroke-width="1.0"/>
<line x1="315.40" y1="222.9" x2="315.40" y2="394.4" stroke="#ebebeb" stroke-width="0.8"/>
<line x1="327.01" y1="222.9" x2="327.01" y2="394.4" stroke="#ebebeb" stroke-width="1.0"/>
<line x1="338.63" y1="222.9" x2="338.63" y2="394.4" stroke="#ebebeb" stroke-width="1.0"/>
<line x1="350.25" y1="222.9" x2="350.25" y2="394.4" stroke="#ebebeb" stroke-width="0.8"/>
<line x1="361.86" y1="222.9" x2="361.86" y2="394.4" stroke="#ebebeb" stroke-width="1.0"/>
<line x1="373.48" y1="222.9" x2="373.48" y2="394.4" stroke="#ebebeb" stroke-width="1.0"/>
<line x1="385.09" y1="222.9" x2="385.09" y2="394.4" stroke="#ebebeb" stroke-width="0.8"/>
<line x1="396.71" y1="222.9" x2="396.71" y2="394.4" stroke="#ebebeb" stroke-width="1.0"/>
<line x1="408.32" y1="222.9" x2="408.32" y2="394.4" stroke="#ebebeb" stroke-width="1.0"/>
<line x1="419.93" y1="222.9" x2="419.93" y2="394.4" stroke="#ebebeb" stroke-width="0.8"/>
<line x1="431.55" y1="222.9" x2="431.55" y2="394.4" stroke="#ebebeb" stroke-width="1.0"/>
<line x1="443.16" y1="222.9" x2="443.16" y2="394.4" stroke="#ebebeb" stroke-width="1.0"/>
<line x1="454.78" y1="222.9" x2="454.78" y2="394.4" stroke="#ebebeb" stroke-width="0.8"/>
<line x1="466.39" y1="222.9" x2="466.39" y2="394.4" stroke="#ebebeb" stroke-width="1.0"/>
<line x1="478.01" y1="222.9" x2="478.01" y2="394.4" stroke="#ebebeb" stroke-width="1.0"/>
<line x1="489.62" y1="222.9" x2="489.62" y2="394.4" stroke="#ebebeb" stroke-width="0.8"/>
<line x1="501.24" y1="222.9" x2="501.24" y2="394.4" stroke="#ebebeb" stroke-width="1.0"/>
<line x1="512.86" y1="222.9" x2="512.86" y2="394.4" stroke="#ebebeb" stroke-width="1.0"/>
<line x1="524.47" y1="222.9" x2="524.47" y2="394.4" stroke="#ebebeb" stroke-width="0.8"/>
<line x1="536.09" y1="222.9" x2="536.09" y2="394.4" stroke="#ebebeb" stroke-width="1.0"/>
<line x1="547.70" y1="222.9" x2="547.70" y2="394.4" stroke="#ebebeb" stroke-width="1.0"/>
<line x1="559.32" y1="222.9" x2="559.32" y2="394.4" stroke="#ebebeb" stroke-width="0.8"/>
<line x1="570.93" y1="222.9" x2="570.93" y2="394.4" stroke="#ebebeb" stroke-width="1.0"/>
<line x1="582.54" y1="222.9" x2="582.54" y2="394.4" stroke="#ebebeb" stroke-width="1.0"/>
<rect x="76.5" y="222.9" width="512.9" height="171.49999999999997" fill="none" stroke="#d4d4d4" stroke-width="1.1"/>
<line x1="73.1" y1="387.50" x2="76.5" y2="387.50" stroke="#bdbdbd" stroke-width="1"/>
<text x="70.4" y="391.10" font-size="10.2" fill="#6b6b6b" text-anchor="end">0</text>
<line x1="73.1" y1="346.10" x2="76.5" y2="346.10" stroke="#bdbdbd" stroke-width="1"/>
<text x="70.4" y="349.70" font-size="10.2" fill="#6b6b6b" text-anchor="end">50</text>
<line x1="73.1" y1="304.70" x2="76.5" y2="304.70" stroke="#bdbdbd" stroke-width="1"/>
<text x="70.4" y="308.30" font-size="10.2" fill="#6b6b6b" text-anchor="end">100</text>
<line x1="73.1" y1="263.30" x2="76.5" y2="263.30" stroke="#bdbdbd" stroke-width="1"/>
<text x="70.4" y="266.90" font-size="10.2" fill="#6b6b6b" text-anchor="end">150</text>
<line x1="83.10" y1="394.4" x2="83.10" y2="397.6" stroke="#bdbdbd" stroke-width="1"/>
<line x1="94.71" y1="394.4" x2="94.71" y2="397.6" stroke="#bdbdbd" stroke-width="1"/>
<line x1="106.33" y1="394.4" x2="106.33" y2="397.6" stroke="#bdbdbd" stroke-width="1"/>
<line x1="117.94" y1="394.4" x2="117.94" y2="397.6" stroke="#bdbdbd" stroke-width="1"/>
<line x1="129.56" y1="394.4" x2="129.56" y2="397.6" stroke="#bdbdbd" stroke-width="1"/>
<line x1="141.18" y1="394.4" x2="141.18" y2="397.6" stroke="#bdbdbd" stroke-width="1"/>
<line x1="152.79" y1="394.4" x2="152.79" y2="397.6" stroke="#bdbdbd" stroke-width="1"/>
<line x1="164.41" y1="394.4" x2="164.41" y2="397.6" stroke="#bdbdbd" stroke-width="1"/>
<line x1="176.02" y1="394.4" x2="176.02" y2="397.6" stroke="#bdbdbd" stroke-width="1"/>
<line x1="187.63" y1="394.4" x2="187.63" y2="397.6" stroke="#bdbdbd" stroke-width="1"/>
<line x1="199.25" y1="394.4" x2="199.25" y2="397.6" stroke="#bdbdbd" stroke-width="1"/>
<line x1="210.87" y1="394.4" x2="210.87" y2="397.6" stroke="#bdbdbd" stroke-width="1"/>
<line x1="222.48" y1="394.4" x2="222.48" y2="397.6" stroke="#bdbdbd" stroke-width="1"/>
<line x1="234.09" y1="394.4" x2="234.09" y2="397.6" stroke="#bdbdbd" stroke-width="1"/>
<line x1="245.71" y1="394.4" x2="245.71" y2="397.6" stroke="#bdbdbd" stroke-width="1"/>
<line x1="257.32" y1="394.4" x2="257.32" y2="397.6" stroke="#bdbdbd" stroke-width="1"/>
<line x1="268.94" y1="394.4" x2="268.94" y2="397.6" stroke="#bdbdbd" stroke-width="1"/>
<line x1="280.56" y1="394.4" x2="280.56" y2="397.6" stroke="#bdbdbd" stroke-width="1"/>
<line x1="292.17" y1="394.4" x2="292.17" y2="397.6" stroke="#bdbdbd" stroke-width="1"/>
<line x1="303.78" y1="394.4" x2="303.78" y2="397.6" stroke="#bdbdbd" stroke-width="1"/>
<line x1="315.40" y1="394.4" x2="315.40" y2="397.6" stroke="#bdbdbd" stroke-width="1"/>
<line x1="327.01" y1="394.4" x2="327.01" y2="397.6" stroke="#bdbdbd" stroke-width="1"/>
<line x1="338.63" y1="394.4" x2="338.63" y2="397.6" stroke="#bdbdbd" stroke-width="1"/>
<line x1="350.25" y1="394.4" x2="350.25" y2="397.6" stroke="#bdbdbd" stroke-width="1"/>
<line x1="361.86" y1="394.4" x2="361.86" y2="397.6" stroke="#bdbdbd" stroke-width="1"/>
<line x1="373.48" y1="394.4" x2="373.48" y2="397.6" stroke="#bdbdbd" stroke-width="1"/>
<line x1="385.09" y1="394.4" x2="385.09" y2="397.6" stroke="#bdbdbd" stroke-width="1"/>
<line x1="396.71" y1="394.4" x2="396.71" y2="397.6" stroke="#bdbdbd" stroke-width="1"/>
<line x1="408.32" y1="394.4" x2="408.32" y2="397.6" stroke="#bdbdbd" stroke-width="1"/>
<line x1="419.93" y1="394.4" x2="419.93" y2="397.6" stroke="#bdbdbd" stroke-width="1"/>
<line x1="431.55" y1="394.4" x2="431.55" y2="397.6" stroke="#bdbdbd" stroke-width="1"/>
<line x1="443.16" y1="394.4" x2="443.16" y2="397.6" stroke="#bdbdbd" stroke-width="1"/>
<line x1="454.78" y1="394.4" x2="454.78" y2="397.6" stroke="#bdbdbd" stroke-width="1"/>
<line x1="466.39" y1="394.4" x2="466.39" y2="397.6" stroke="#bdbdbd" stroke-width="1"/>
<line x1="478.01" y1="394.4" x2="478.01" y2="397.6" stroke="#bdbdbd" stroke-width="1"/>
<line x1="489.62" y1="394.4" x2="489.62" y2="397.6" stroke="#bdbdbd" stroke-width="1"/>
<line x1="501.24" y1="394.4" x2="501.24" y2="397.6" stroke="#bdbdbd" stroke-width="1"/>
<line x1="512.86" y1="394.4" x2="512.86" y2="397.6" stroke="#bdbdbd" stroke-width="1"/>
<line x1="524.47" y1="394.4" x2="524.47" y2="397.6" stroke="#bdbdbd" stroke-width="1"/>
<line x1="536.09" y1="394.4" x2="536.09" y2="397.6" stroke="#bdbdbd" stroke-width="1"/>
<line x1="547.70" y1="394.4" x2="547.70" y2="397.6" stroke="#bdbdbd" stroke-width="1"/>
<line x1="559.32" y1="394.4" x2="559.32" y2="397.6" stroke="#bdbdbd" stroke-width="1"/>
<line x1="570.93" y1="394.4" x2="570.93" y2="397.6" stroke="#bdbdbd" stroke-width="1"/>
<line x1="582.54" y1="394.4" x2="582.54" y2="397.6" stroke="#bdbdbd" stroke-width="1"/>
<text transform="translate(93.91,408.7) rotate(-90)" font-size="12" fill="#1e1e1e" text-anchor="middle">1</text>
<text transform="translate(128.75,408.3) rotate(-90)" font-size="12" fill="#1e1e1e" text-anchor="middle">23</text>
<text transform="translate(163.60,408.3) rotate(-90)" font-size="12" fill="#1e1e1e" text-anchor="middle">46</text>
<text transform="translate(198.44,408.3) rotate(-90)" font-size="12" fill="#1e1e1e" text-anchor="middle">47</text>
<text transform="translate(233.29,408.3) rotate(-90)" font-size="12" fill="#1e1e1e" text-anchor="middle">48</text>
<text transform="translate(268.13,408.3) rotate(-90)" font-size="12" fill="#1e1e1e" text-anchor="middle">96</text>
<text transform="translate(302.98,408.3) rotate(-90)" font-size="12" fill="#1e1e1e" text-anchor="middle">97</text>
<text transform="translate(337.82,409.6) rotate(-90)" font-size="12" fill="#1e1e1e" text-anchor="middle">113</text>
<text transform="translate(372.67,409.6) rotate(-90)" font-size="12" fill="#1e1e1e" text-anchor="middle">116</text>
<text transform="translate(407.51,409.6) rotate(-90)" font-size="12" fill="#1e1e1e" text-anchor="middle">127</text>
<text transform="translate(442.36,409.6) rotate(-90)" font-size="12" fill="#1e1e1e" text-anchor="middle">128</text>
<text transform="translate(477.20,409.6) rotate(-90)" font-size="12" fill="#1e1e1e" text-anchor="middle">130</text>
<text transform="translate(512.05,409.6) rotate(-90)" font-size="12" fill="#1e1e1e" text-anchor="middle">132</text>
<text transform="translate(546.89,409.6) rotate(-90)" font-size="12" fill="#1e1e1e" text-anchor="middle">136</text>
<text transform="translate(581.74,409.6) rotate(-90)" font-size="12" fill="#1e1e1e" text-anchor="middle">169</text>
<text transform="translate(30.6,382.1) rotate(-90)" font-size="11.9" fill="#1a1a1a" textLength="141.2" lengthAdjust="spacingAndGlyphs">fitness for mis-sense edits</text>
<text transform="translate(44.6,376.7) rotate(-90)" font-size="11.8" fill="#1a1a1a" textLength="130.4" lengthAdjust="spacingAndGlyphs">(read-count 4 d / 6 h, %)</text>
<line x1="83.10" y1="361.6" x2="83.10" y2="367.6" stroke="#333" stroke-width="1.1"/><line x1="83.10" y1="385.9" x2="83.10" y2="386.2" stroke="#333" stroke-width="1.1"/><path d="M79.00,385.90 L79.00,385.90 L81.05,373.70 L79.00,361.50 L79.00,367.60 L87.20,367.60 L87.20,361.50 L85.15,373.70 L87.20,385.90 L87.20,385.90 Z" fill="#83c27c" stroke="#1f1f1f" stroke-width="0.9" stroke-linejoin="miter"/><line x1="81.05" y1="373.7" x2="85.15" y2="373.7" stroke="#111" stroke-width="1.6"/>
<line x1="94.71" y1="379.6" x2="94.71" y2="381.9" stroke="#333" stroke-width="1.1"/><line x1="94.71" y1="387.3" x2="94.71" y2="387.5" stroke="#333" stroke-width="1.1"/><path d="M90.61,387.30 L90.61,388.70 L92.66,386.60 L90.61,384.50 L90.61,381.90 L98.81,381.90 L98.81,384.50 L96.76,386.60 L98.81,388.70 L98.81,387.30 Z" fill="#c87474" stroke="#1f1f1f" stroke-width="0.9" stroke-linejoin="miter"/><line x1="92.66" y1="386.6" x2="96.76" y2="386.6" stroke="#111" stroke-width="1.6"/>
<line x1="117.94" y1="243.6" x2="117.94" y2="300.0" stroke="#333" stroke-width="1.1"/><line x1="117.94" y1="361.3" x2="117.94" y2="372.4" stroke="#333" stroke-width="1.1"/><path d="M113.84,361.30 L113.84,365.00 L115.89,338.80 L113.84,312.60 L113.84,300.00 L122.04,300.00 L122.04,312.60 L119.99,338.80 L122.04,365.00 L122.04,361.30 Z" fill="#83c27c" stroke="#1f1f1f" stroke-width="0.9" stroke-linejoin="miter"/><line x1="115.89" y1="338.8" x2="119.99" y2="338.8" stroke="#111" stroke-width="1.6"/>
<line x1="129.56" y1="348.8" x2="129.56" y2="348.8" stroke="#333" stroke-width="1.1"/><line x1="129.56" y1="386.7" x2="129.56" y2="387.5" stroke="#333" stroke-width="1.1"/><path d="M125.46,386.70 L125.46,389.50 L127.51,373.50 L125.46,357.50 L125.46,348.80 L133.66,348.80 L133.66,357.50 L131.61,373.50 L133.66,389.50 L133.66,386.70 Z" fill="#c87474" stroke="#1f1f1f" stroke-width="0.9" stroke-linejoin="miter"/><line x1="127.51" y1="373.5" x2="131.61" y2="373.5" stroke="#111" stroke-width="1.6"/>
<line x1="152.79" y1="301.2" x2="152.79" y2="313.8" stroke="#333" stroke-width="1.1"/><line x1="152.79" y1="355.5" x2="152.79" y2="381.2" stroke="#333" stroke-width="1.1"/><path d="M148.69,355.50 L148.69,361.30 L150.74,345.50 L148.69,329.70 L148.69,313.80 L156.89,313.80 L156.89,329.70 L154.84,345.50 L156.89,361.30 L156.89,355.50 Z" fill="#83c27c" stroke="#1f1f1f" stroke-width="0.9" stroke-linejoin="miter"/><line x1="150.74" y1="345.5" x2="154.84" y2="345.5" stroke="#111" stroke-width="1.6"/>
<line x1="164.41" y1="374.0" x2="164.41" y2="380.0" stroke="#333" stroke-width="1.1"/><line x1="164.41" y1="387.3" x2="164.41" y2="387.5" stroke="#333" stroke-width="1.1"/><path d="M160.31,387.30 L160.31,388.90 L162.36,386.60 L160.31,384.30 L160.31,380.00 L168.50,380.00 L168.50,384.30 L166.45,386.60 L168.50,388.90 L168.50,387.30 Z" fill="#c87474" stroke="#1f1f1f" stroke-width="0.9" stroke-linejoin="miter"/><line x1="162.36" y1="386.6" x2="166.45" y2="386.6" stroke="#111" stroke-width="1.6"/>
<line x1="187.63" y1="310.0" x2="187.63" y2="313.8" stroke="#333" stroke-width="1.1"/><line x1="187.63" y1="349.3" x2="187.63" y2="380.3" stroke="#333" stroke-width="1.1"/><path d="M183.53,349.30 L183.53,345.80 L185.59,333.80 L183.53,321.80 L183.53,313.80 L191.73,313.80 L191.73,321.80 L189.68,333.80 L191.73,345.80 L191.73,349.30 Z" fill="#83c27c" stroke="#1f1f1f" stroke-width="0.9" stroke-linejoin="miter"/><line x1="185.59" y1="333.8" x2="189.68" y2="333.8" stroke="#111" stroke-width="1.6"/>
<line x1="199.25" y1="385.3" x2="199.25" y2="385.3" stroke="#333" stroke-width="1.1"/><line x1="199.25" y1="387.5" x2="199.25" y2="387.5" stroke="#333" stroke-width="1.1"/><path d="M195.15,387.50 L195.15,387.10 L197.20,386.50 L195.15,385.90 L195.15,385.30 L203.35,385.30 L203.35,385.90 L201.30,386.50 L203.35,387.10 L203.35,387.50 Z" fill="#c87474" stroke="#1f1f1f" stroke-width="0.9" stroke-linejoin="miter"/><line x1="197.20" y1="386.5" x2="201.30" y2="386.5" stroke="#111" stroke-width="1.6"/>
<line x1="222.48" y1="337.0" x2="222.48" y2="362.5" stroke="#333" stroke-width="1.1"/><line x1="222.48" y1="383.8" x2="222.48" y2="386.3" stroke="#333" stroke-width="1.1"/><path d="M218.38,383.80 L218.38,385.50 L220.43,375.00 L218.38,364.50 L218.38,362.50 L226.58,362.50 L226.58,364.50 L224.53,375.00 L226.58,385.50 L226.58,383.80 Z" fill="#83c27c" stroke="#1f1f1f" stroke-width="0.9" stroke-linejoin="miter"/><line x1="220.43" y1="375.0" x2="224.53" y2="375.0" stroke="#111" stroke-width="1.6"/>
<line x1="234.09" y1="382.5" x2="234.09" y2="383.2" stroke="#333" stroke-width="1.1"/><line x1="234.09" y1="387.3" x2="234.09" y2="387.5" stroke="#333" stroke-width="1.1"/><path d="M230.00,387.30 L230.00,388.10 L232.05,386.60 L230.00,385.10 L230.00,383.20 L238.19,383.20 L238.19,385.10 L236.14,386.60 L238.19,388.10 L238.19,387.30 Z" fill="#c87474" stroke="#1f1f1f" stroke-width="0.9" stroke-linejoin="miter"/><line x1="232.05" y1="386.6" x2="236.14" y2="386.6" stroke="#111" stroke-width="1.6"/>
<line x1="257.32" y1="290.8" x2="257.32" y2="313.8" stroke="#333" stroke-width="1.1"/><line x1="257.32" y1="365.0" x2="257.32" y2="386.3" stroke="#333" stroke-width="1.1"/><path d="M253.22,365.00 L253.22,365.30 L255.28,348.30 L253.22,331.30 L253.22,313.80 L261.43,313.80 L261.43,331.30 L259.38,348.30 L261.43,365.30 L261.43,365.00 Z" fill="#83c27c" stroke="#1f1f1f" stroke-width="0.9" stroke-linejoin="miter"/><line x1="255.28" y1="348.3" x2="259.38" y2="348.3" stroke="#111" stroke-width="1.6"/>
<line x1="268.94" y1="265.0" x2="268.94" y2="333.3" stroke="#333" stroke-width="1.1"/><line x1="268.94" y1="384.5" x2="268.94" y2="387.2" stroke="#333" stroke-width="1.1"/><path d="M264.84,384.50 L264.84,381.80 L266.89,361.80 L264.84,341.80 L264.84,333.30 L273.04,333.30 L273.04,341.80 L270.99,361.80 L273.04,381.80 L273.04,384.50 Z" fill="#c87474" stroke="#1f1f1f" stroke-width="0.9" stroke-linejoin="miter"/><line x1="266.89" y1="361.8" x2="270.99" y2="361.8" stroke="#111" stroke-width="1.6"/>
<line x1="292.17" y1="337.0" x2="292.17" y2="348.8" stroke="#333" stroke-width="1.1"/><line x1="292.17" y1="380.0" x2="292.17" y2="386.3" stroke="#333" stroke-width="1.1"/><path d="M288.07,380.00 L288.07,370.30 L290.12,358.30 L288.07,346.30 L288.07,348.80 L296.27,348.80 L296.27,346.30 L294.22,358.30 L296.27,370.30 L296.27,380.00 Z" fill="#83c27c" stroke="#1f1f1f" stroke-width="0.9" stroke-linejoin="miter"/><line x1="290.12" y1="358.3" x2="294.22" y2="358.3" stroke="#111" stroke-width="1.6"/>
<line x1="303.78" y1="385.6" x2="303.78" y2="385.6" stroke="#333" stroke-width="1.1"/><line x1="303.78" y1="387.0" x2="303.78" y2="387.0" stroke="#333" stroke-width="1.1"/><path d="M299.68,387.00 L299.68,386.70 L301.73,386.30 L299.68,385.90 L299.68,385.60 L307.88,385.60 L307.88,385.90 L305.83,386.30 L307.88,386.70 L307.88,387.00 Z" fill="#c87474" stroke="#1f1f1f" stroke-width="0.9" stroke-linejoin="miter"/><line x1="301.73" y1="386.3" x2="305.83" y2="386.3" stroke="#111" stroke-width="1.6"/>
<line x1="327.01" y1="302.0" x2="327.01" y2="317.5" stroke="#333" stroke-width="1.1"/><line x1="327.01" y1="353.3" x2="327.01" y2="386.5" stroke="#333" stroke-width="1.1"/><path d="M322.91,353.30 L322.91,352.80 L324.96,340.80 L322.91,328.80 L322.91,317.50 L331.12,317.50 L331.12,328.80 L329.06,340.80 L331.12,352.80 L331.12,353.30 Z" fill="#83c27c" stroke="#1f1f1f" stroke-width="0.9" stroke-linejoin="miter"/><line x1="324.96" y1="340.8" x2="329.06" y2="340.8" stroke="#111" stroke-width="1.6"/>
<line x1="338.63" y1="324.3" x2="338.63" y2="332.5" stroke="#333" stroke-width="1.1"/><line x1="338.63" y1="386.6" x2="338.63" y2="387.5" stroke="#333" stroke-width="1.1"/><path d="M334.53,386.60 L334.53,390.40 L336.58,371.10 L334.53,351.80 L334.53,332.50 L342.73,332.50 L342.73,351.80 L340.68,371.10 L342.73,390.40 L342.73,386.60 Z" fill="#c87474" stroke="#1f1f1f" stroke-width="0.9" stroke-linejoin="miter"/><line x1="336.58" y1="371.1" x2="340.68" y2="371.1" stroke="#111" stroke-width="1.6"/>
<line x1="361.86" y1="263.9" x2="361.86" y2="306.4" stroke="#333" stroke-width="1.1"/><line x1="361.86" y1="352.5" x2="361.86" y2="386.3" stroke="#333" stroke-width="1.1"/><path d="M357.76,352.50 L357.76,355.50 L359.81,337.50 L357.76,319.50 L357.76,306.40 L365.96,306.40 L365.96,319.50 L363.91,337.50 L365.96,355.50 L365.96,352.50 Z" fill="#83c27c" stroke="#1f1f1f" stroke-width="0.9" stroke-linejoin="miter"/><line x1="359.81" y1="337.5" x2="363.91" y2="337.5" stroke="#111" stroke-width="1.6"/>
<line x1="373.48" y1="374.3" x2="373.48" y2="377.1" stroke="#333" stroke-width="1.1"/><line x1="373.48" y1="387.3" x2="373.48" y2="387.5" stroke="#333" stroke-width="1.1"/><path d="M369.38,387.30 L369.38,390.20 L371.43,386.30 L369.38,382.40 L369.38,377.10 L377.58,377.10 L377.58,382.40 L375.53,386.30 L377.58,390.20 L377.58,387.30 Z" fill="#c87474" stroke="#1f1f1f" stroke-width="0.9" stroke-linejoin="miter"/><line x1="371.43" y1="386.3" x2="375.53" y2="386.3" stroke="#111" stroke-width="1.6"/>
<line x1="396.71" y1="373.7" x2="396.71" y2="380.9" stroke="#333" stroke-width="1.1"/><line x1="396.71" y1="387.3" x2="396.71" y2="387.5" stroke="#333" stroke-width="1.1"/><path d="M392.61,387.30 L392.61,389.60 L394.66,386.60 L392.61,383.60 L392.61,380.90 L400.81,380.90 L400.81,383.60 L398.76,386.60 L400.81,389.60 L400.81,387.30 Z" fill="#83c27c" stroke="#1f1f1f" stroke-width="0.9" stroke-linejoin="miter"/><line x1="394.66" y1="386.6" x2="398.76" y2="386.6" stroke="#111" stroke-width="1.6"/>
<line x1="408.32" y1="385.6" x2="408.32" y2="385.6" stroke="#333" stroke-width="1.1"/><line x1="408.32" y1="387.0" x2="408.32" y2="387.0" stroke="#333" stroke-width="1.1"/><path d="M404.22,387.00 L404.22,386.70 L406.27,386.30 L404.22,385.90 L404.22,385.60 L412.42,385.60 L412.42,385.90 L410.37,386.30 L412.42,386.70 L412.42,387.00 Z" fill="#c87474" stroke="#1f1f1f" stroke-width="0.9" stroke-linejoin="miter"/><line x1="406.27" y1="386.3" x2="410.37" y2="386.3" stroke="#111" stroke-width="1.6"/>
<line x1="431.55" y1="226.2" x2="431.55" y2="287.6" stroke="#333" stroke-width="1.1"/><line x1="431.55" y1="333.0" x2="431.55" y2="379.5" stroke="#333" stroke-width="1.1"/><path d="M427.45,333.00 L427.45,334.50 L429.50,314.50 L427.45,294.50 L427.45,287.60 L435.65,287.60 L435.65,294.50 L433.60,314.50 L435.65,334.50 L435.65,333.00 Z" fill="#83c27c" stroke="#1f1f1f" stroke-width="0.9" stroke-linejoin="miter"/><line x1="429.50" y1="314.5" x2="433.60" y2="314.5" stroke="#111" stroke-width="1.6"/>
<line x1="443.16" y1="381.5" x2="443.16" y2="383.5" stroke="#333" stroke-width="1.1"/><line x1="443.16" y1="387.3" x2="443.16" y2="387.5" stroke="#333" stroke-width="1.1"/><path d="M439.06,387.30 L439.06,388.10 L441.11,386.60 L439.06,385.10 L439.06,383.50 L447.26,383.50 L447.26,385.10 L445.21,386.60 L447.26,388.10 L447.26,387.30 Z" fill="#c87474" stroke="#1f1f1f" stroke-width="0.9" stroke-linejoin="miter"/><line x1="441.11" y1="386.6" x2="445.21" y2="386.6" stroke="#111" stroke-width="1.6"/>
<line x1="466.39" y1="261.4" x2="466.39" y2="301.7" stroke="#333" stroke-width="1.1"/><line x1="466.39" y1="341.3" x2="466.39" y2="386.3" stroke="#333" stroke-width="1.1"/><path d="M462.29,341.30 L462.29,342.50 L464.34,323.00 L462.29,303.50 L462.29,301.70 L470.50,301.70 L470.50,303.50 L468.44,323.00 L470.50,342.50 L470.50,341.30 Z" fill="#83c27c" stroke="#1f1f1f" stroke-width="0.9" stroke-linejoin="miter"/><line x1="464.34" y1="323.0" x2="468.44" y2="323.0" stroke="#111" stroke-width="1.6"/>
<line x1="478.01" y1="381.5" x2="478.01" y2="383.5" stroke="#333" stroke-width="1.1"/><line x1="478.01" y1="387.3" x2="478.01" y2="387.5" stroke="#333" stroke-width="1.1"/><path d="M473.91,387.30 L473.91,388.10 L475.96,386.60 L473.91,385.10 L473.91,383.50 L482.11,383.50 L482.11,385.10 L480.06,386.60 L482.11,388.10 L482.11,387.30 Z" fill="#c87474" stroke="#1f1f1f" stroke-width="0.9" stroke-linejoin="miter"/><line x1="475.96" y1="386.6" x2="480.06" y2="386.6" stroke="#111" stroke-width="1.6"/>
<line x1="501.24" y1="266.0" x2="501.24" y2="302.2" stroke="#333" stroke-width="1.1"/><line x1="501.24" y1="353.8" x2="501.24" y2="381.3" stroke="#333" stroke-width="1.1"/><path d="M497.14,353.80 L497.14,355.50 L499.19,330.00 L497.14,304.50 L497.14,302.20 L505.34,302.20 L505.34,304.50 L503.29,330.00 L505.34,355.50 L505.34,353.80 Z" fill="#83c27c" stroke="#1f1f1f" stroke-width="0.9" stroke-linejoin="miter"/><line x1="499.19" y1="330.0" x2="503.29" y2="330.0" stroke="#111" stroke-width="1.6"/>
<line x1="512.86" y1="356.8" x2="512.86" y2="360.8" stroke="#333" stroke-width="1.1"/><line x1="512.86" y1="382.8" x2="512.86" y2="386.5" stroke="#333" stroke-width="1.1"/><path d="M508.75,382.80 L508.75,388.40 L510.81,378.20 L508.75,368.00 L508.75,360.80 L516.96,360.80 L516.96,368.00 L514.91,378.20 L516.96,388.40 L516.96,382.80 Z" fill="#c87474" stroke="#1f1f1f" stroke-width="0.9" stroke-linejoin="miter"/><line x1="510.81" y1="378.2" x2="514.91" y2="378.2" stroke="#111" stroke-width="1.6"/>
<line x1="536.09" y1="289.1" x2="536.09" y2="308.1" stroke="#333" stroke-width="1.1"/><line x1="536.09" y1="368.0" x2="536.09" y2="386.3" stroke="#333" stroke-width="1.1"/><path d="M531.99,368.00 L531.99,360.00 L534.03,335.00 L531.99,310.00 L531.99,308.10 L540.19,308.10 L540.19,310.00 L538.14,335.00 L540.19,360.00 L540.19,368.00 Z" fill="#83c27c" stroke="#1f1f1f" stroke-width="0.9" stroke-linejoin="miter"/><line x1="534.03" y1="335.0" x2="538.14" y2="335.0" stroke="#111" stroke-width="1.6"/>
<line x1="547.70" y1="378.8" x2="547.70" y2="383.2" stroke="#333" stroke-width="1.1"/><line x1="547.70" y1="387.3" x2="547.70" y2="387.5" stroke="#333" stroke-width="1.1"/><path d="M543.60,387.30 L543.60,388.10 L545.65,386.60 L543.60,385.10 L543.60,383.20 L551.80,383.20 L551.80,385.10 L549.75,386.60 L551.80,388.10 L551.80,387.30 Z" fill="#c87474" stroke="#1f1f1f" stroke-width="0.9" stroke-linejoin="miter"/><line x1="545.65" y1="386.6" x2="549.75" y2="386.6" stroke="#111" stroke-width="1.6"/>
<line x1="570.93" y1="317.0" x2="570.93" y2="342.5" stroke="#333" stroke-width="1.1"/><line x1="570.93" y1="377.0" x2="570.93" y2="386.3" stroke="#333" stroke-width="1.1"/><path d="M566.83,377.00 L566.83,376.00 L568.88,362.00 L566.83,348.00 L566.83,342.50 L575.03,342.50 L575.03,348.00 L572.98,362.00 L575.03,376.00 L575.03,377.00 Z" fill="#83c27c" stroke="#1f1f1f" stroke-width="0.9" stroke-linejoin="miter"/><line x1="568.88" y1="362.0" x2="572.98" y2="362.0" stroke="#111" stroke-width="1.6"/>
<line x1="582.54" y1="385.6" x2="582.54" y2="385.6" stroke="#333" stroke-width="1.1"/><line x1="582.54" y1="387.0" x2="582.54" y2="387.0" stroke="#333" stroke-width="1.1"/><path d="M578.44,387.00 L578.44,386.70 L580.49,386.30 L578.44,385.90 L578.44,385.60 L586.64,385.60 L586.64,385.90 L584.60,386.30 L586.64,386.70 L586.64,387.00 Z" fill="#c87474" stroke="#1f1f1f" stroke-width="0.9" stroke-linejoin="miter"/><line x1="580.49" y1="386.3" x2="584.60" y2="386.3" stroke="#111" stroke-width="1.6"/>
<rect x="600.4" y="278.6" width="15.6" height="15.4" fill="#8cc58a" stroke="#2d3272" stroke-width="1.3"/>
<rect x="600.5" y="334.4" width="15.6" height="15.6" fill="#c27a7b" stroke="#2d3272" stroke-width="1.3"/>
<text x="621.7" y="289.6" font-size="13" fill="#1a1a1a"><tspan font-style="italic">β5</tspan> diploid</text>
<text x="621.9" y="347.6" font-size="13" fill="#1a1a1a"><tspan font-style="italic">β5</tspan> haploid</text>
</svg></body></html>
